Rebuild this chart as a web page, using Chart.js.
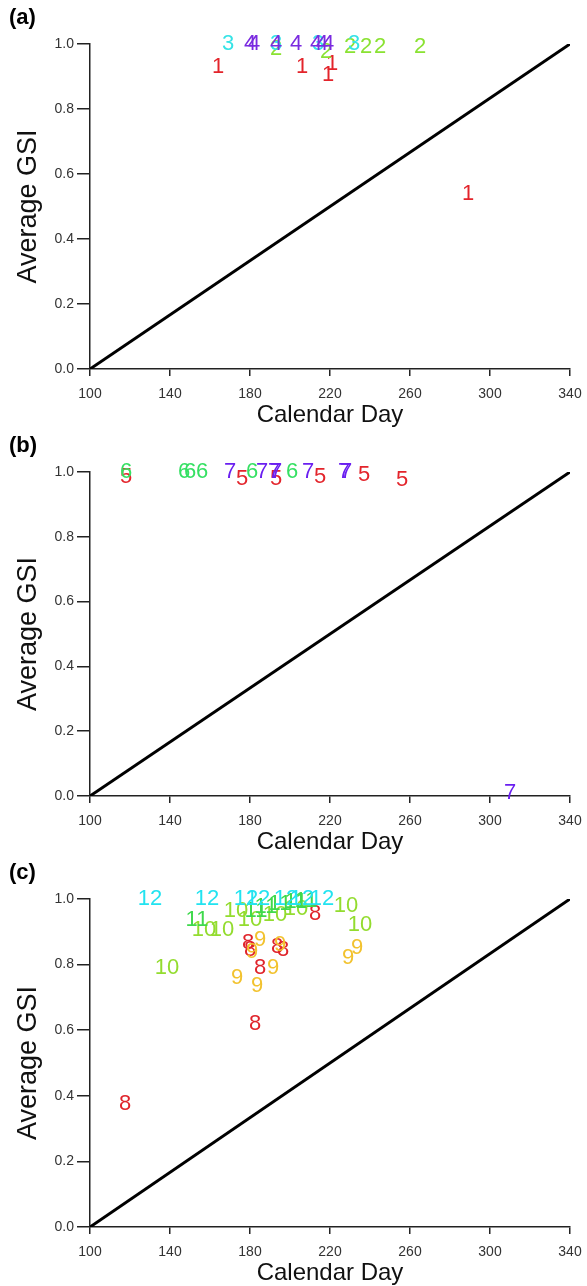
<!DOCTYPE html>
<html>
<head>
<meta charset="utf-8">
<script src="https://cdn.jsdelivr.net/npm/chart.js@4/dist/chart.umd.min.js"></script>
<style>
  html, body { margin: 0; padding: 0; background: #fff; }
  .panel { position: absolute; left: 0; width: 587px; }
</style>
</head>
<body>
<div class="panel" style="top:0px"><canvas id="chartA" width="587" height="428"></canvas></div>
<div class="panel" style="top:428px"><canvas id="chartB" width="587" height="427"></canvas></div>
<div class="panel" style="top:855px"><canvas id="chartC" width="587" height="431"></canvas></div>
<script>
// Axis ranges shared by all panels
const xTicksMin = 100, xTicksMax = 340, xStep = 40;
const yTicksMin = 0, yTicksMax = 1, yStep = 0.2;

// 1:1 reference line (from day 100 to day 340)
const refLine = [{ x: 100, y: 0 }, { x: 340, y: 1 }];

// Panel (a): groups 1-4
const group1 = [[164, 0.93], [206, 0.93], [219, 0.905], [221, 0.94], [289, 0.54]];
const group2 = [[193, 0.985], [218, 0.975], [230, 0.99], [238, 0.99], [245, 0.99], [265, 0.99]];
const group3 = [[169, 1.0], [193, 1.0], [214, 1.0], [232, 1.0]];
const group4 = [[180, 1.0], [182, 1.0], [193, 1.0], [203, 1.0], [213, 1.0], [216, 1.0], [219, 1.0]];

// Panel (b): groups 5-7
const group5 = [[118, 0.985], [176, 0.98], [193, 0.98], [215, 0.985], [237, 0.99], [256, 0.975]];
const group6 = [[118, 1.0], [147, 1.0], [150, 1.0], [156, 1.0], [181, 1.0], [201, 1.0]];
const group7 = [[170, 1.0], [186, 1.0], [192, 1.0], [193, 1.0], [209, 1.0], [227, 1.0], [228, 1.0], [310, 0.01]];

// Panel (c): groups 8-12
const group8 = [[117.5, 0.375], [179, 0.865], [180, 0.845], [182.5, 0.62], [185, 0.79], [193.5, 0.855], [196.5, 0.845], [212.5, 0.955]];
const group9 = [[173.5, 0.76], [181, 0.84], [183.5, 0.735], [185, 0.875], [191.5, 0.79], [195, 0.86], [229, 0.82], [233.5, 0.85]];
const group10 = [[138.5, 0.79], [157, 0.905], [166, 0.905], [173, 0.965], [180, 0.935], [192.5, 0.95], [203, 0.97], [228, 0.98], [235, 0.92]];
const group11 = [[153.5, 0.935], [183, 0.965], [188, 0.975], [195, 0.985], [203, 0.99], [208, 0.995]];
const group12 = [[130, 1.0], [158.5, 1.0], [178, 1.0], [184, 1.0], [198, 1.0], [206, 1.0], [216, 1.0]];

const colors = {
  1: "#e3242b", 2: "#8ae232", 3: "#35e3e6", 4: "#7a2ae0",
  5: "#e3242b", 6: "#35e063", 7: "#6a1ff0",
  8: "#e0242b", 9: "#f2c22e", 10: "#93dc2f", 11: "#3fd94c", 12: "#22e3f0",
};

const FONT = "'Liberation Sans', Arial, sans-serif";
const toPoints = (arr) => arr.map(([x, y]) => ({ x, y }));

// Draws each point as its group number, and the panel letter
const numberLabels = {
  id: "numberLabels",
  afterDatasetsDraw(chart) {
    const ctx = chart.ctx;
    ctx.save();
    ctx.font = "22px " + FONT;
    ctx.textAlign = "center";
    ctx.textBaseline = "middle";
    chart.data.datasets.forEach((ds, i) => {
      if (!ds.groupLabel) return;
      ctx.fillStyle = ds.borderColor;
      chart.getDatasetMeta(i).data.forEach((el) => {
        ctx.fillText(ds.groupLabel, el.x, el.y);
      });
    });
    ctx.font = "bold 22px " + FONT;
    ctx.fillStyle = "#000";
    ctx.textAlign = "left";
    ctx.fillText(chart.options.panelLetter, 9, 18);
    ctx.restore();
  },
};

function makeDatasets(groups) {
  const sets = [{
    type: "line",
    data: refLine,
    borderColor: "#000",
    borderWidth: 3,
    pointRadius: 0,
    fill: false,
  }];
  groups.forEach(([num, arr]) => {
    sets.push({
      groupLabel: String(num),
      data: toPoints(arr),
      borderColor: colors[num],
      backgroundColor: colors[num],
      pointRadius: 0,
      pointHoverRadius: 0,
    });
  });
  return sets;
}

function makeChart(canvasId, letter, groups) {
  return new Chart(document.getElementById(canvasId).getContext("2d"), {
    type: "scatter",
    data: { datasets: makeDatasets(groups) },
    plugins: [numberLabels],
    options: {
      panelLetter: letter,
      responsive: false,
      animation: false,
      devicePixelRatio: 1,
      layout: { padding: { top: 44, right: 17, left: 0, bottom: 0 } },
      plugins: { legend: { display: false }, tooltip: { enabled: false } },
      scales: {
        x: {
          type: "linear",
          min: xTicksMin,
          max: xTicksMax,
          afterFit: (scale) => {
            scale.height = 59;
            scale.paddingLeft = 0;
            scale.paddingRight = 0;
          },
          ticks: {
            stepSize: xStep,
            color: "#333",
            font: { size: 14, family: FONT },
            padding: 10,
            maxRotation: 0,
          },
          grid: { drawOnChartArea: false, drawTicks: true, tickLength: 7, color: "#222", lineWidth: 1.5 },
          border: { display: true, color: "#222", width: 1.5 },
          title: {
            display: true,
            text: "Calendar Day",
            color: "#111",
            font: { size: 24, family: FONT, lineHeight: 1.05 },
            padding: 0,
          },
        },
        y: {
          type: "linear",
          min: yTicksMin,
          max: yTicksMax,
          afterFit: (scale) => { scale.width = 90; },
          ticks: {
            stepSize: yStep,
            color: "#333",
            font: { size: 14, family: FONT },
            padding: 3,
            callback: (v) => v.toFixed(1),
          },
          grid: { drawOnChartArea: false, drawTicks: true, tickLength: 13, color: "#222", lineWidth: 1.5 },
          border: { display: true, color: "#222", width: 1.5 },
          title: {
            display: true,
            text: "Average GSI",
            color: "#111",
            font: { size: 27, family: FONT },
            padding: { top: 12, bottom: 12 },
          },
        },
      },
    },
  });
}

makeChart("chartA", "(a)", [[1, group1], [2, group2], [3, group3], [4, group4]]);
makeChart("chartB", "(b)", [[5, group5], [6, group6], [7, group7]]);
makeChart("chartC", "(c)", [[8, group8], [9, group9], [10, group10], [11, group11], [12, group12]]);
</script>
</body>
</html>
